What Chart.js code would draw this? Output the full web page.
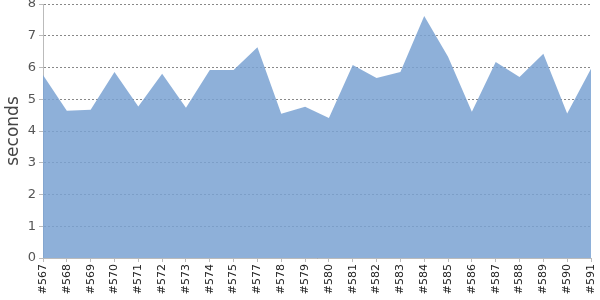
<!DOCTYPE html>
<html>
<head>
<meta charset="utf-8">
<script src="https://cdn.jsdelivr.net/npm/chart.js@4/dist/chart.umd.min.js"></script>
<style>
  html, body { margin: 0; padding: 0; background: #fff; }
  #wrap { width: 600px; height: 300px; position: relative; }
</style>
</head>
<body>
<div id="wrap"><canvas id="myChart"></canvas></div>
<script>
// build numbers along the x axis (#576 is missing in the source)
const builds = ['#567', '#568', '#569', '#570', '#571', '#572', '#573', '#574', '#575', '#577',
  '#578', '#579', '#580', '#581', '#582', '#583', '#584', '#585', '#586', '#587',
  '#588', '#589', '#590', '#591'];

// duration of each build, seconds
const seconds = [5.76, 4.64, 4.67, 5.86, 4.77, 5.80, 4.73, 5.92, 5.92, 6.64,
  4.54, 4.76, 4.41, 6.08, 5.67, 5.86, 7.62, 6.34, 4.61, 6.17,
  5.70, 6.43, 4.55, 5.96];

const yTicks = [0, 1, 2, 3, 4, 5, 6, 7, 8];

Chart.defaults.font.family = '"DejaVu Sans", sans-serif';
Chart.defaults.animation = false;

const ctx = document.getElementById('myChart').getContext('2d');
const chart = new Chart(ctx, {
  type: 'line',
  data: {
    labels: builds,
    datasets: [{
      label: 'seconds',
      data: seconds,
      fill: 'origin',
      backgroundColor: 'rgba(122,162,210,0.85)',
      borderWidth: 0,
      borderColor: 'rgba(0,0,0,0)',
      pointRadius: 0,
      tension: 0,
    }]
  },
  options: {
    responsive: true,
    maintainAspectRatio: false,
    layout: { padding: { top: 4, right: 9, bottom: 0, left: 0 } },
    plugins: {
      legend: { display: false },
      tooltip: { enabled: false },
    },
    scales: {
      x: {
        grid: {
          drawOnChartArea: false,
          drawTicks: true,
          tickLength: 4,
          tickColor: '#bbb',
        },
        border: { display: true, color: '#bbb' },
        ticks: {
          autoSkip: false,
          maxRotation: 90,
          minRotation: 90,
          padding: 2,
          color: '#222',
          font: { size: 11 },
        },
        afterFit(scale) {
          scale.height = 42;
          scale.paddingLeft = 0;
          scale.paddingRight = 0;
        },
      },
      y: {
        min: 0,
        max: 8,
        afterBuildTicks(scale) {
          scale.ticks = yTicks.map(v => ({ value: v }));
        },
        grid: {
          color: '#888',
          tickLength: 4,
          tickColor: '#bbb',
          tickBorderDash: [],
        },
        border: { display: true, color: '#bbb', dash: [2, 2] },
        ticks: {
          color: '#555',
          padding: 3,
          font: { size: 13 },
        },
        title: {
          display: true,
          text: 'seconds',
          color: '#444',
          padding: { top: 3, bottom: 0 },
          font: { size: 17 },
        },
        afterFit(scale) {
          scale.width = 43;
          scale.paddingTop = 0;
          scale.paddingBottom = 0;
        },
      },
    },
  },
});
</script>
</body>
</html>
